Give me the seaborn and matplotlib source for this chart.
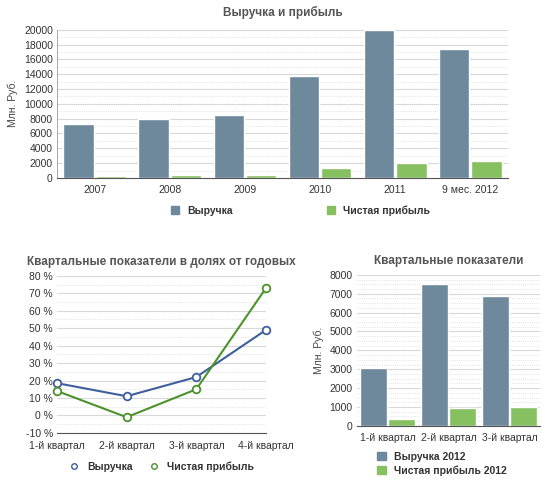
import seaborn as sns
import matplotlib.pyplot as plt
import pandas as pd
from matplotlib.ticker import MultipleLocator, FuncFormatter
from matplotlib.lines import Line2D
from matplotlib.patches import Patch

# --- data ---
years = ['2007', '2008', '2009', '2010', '2011', '9 мес. 2012']
revenue_year = [7300, 7900, 8500, 13800, 20000, 17400]
profit_year = [250, 350, 450, 1300, 2000, 2300]

quarters = ['1-й квартал', '2-й квартал', '3-й квартал', '4-й квартал']
revenue_share = [18.5, 11, 22, 49]
profit_share = [14, -1, 15, 73]

quarters_2012 = ['1-й квартал', '2-й квартал', '3-й квартал']
revenue_q = [3050, 7500, 6900]
profit_q = [380, 950, 1000]

BLUE_BAR = '#6e889c'
GREEN_BAR = '#86c060'
BLUE_LINE = '#3e5f9c'
GREEN_LINE = '#4c922c'
TXT = '#333333'
TITLE = '#555555'

sns.set_style("white")
plt.rcParams['font.family'] = ['Liberation Sans', 'DejaVu Sans']
plt.rcParams['font.size'] = 7.5
plt.rcParams['text.color'] = TXT
plt.rcParams['xtick.color'] = TXT
plt.rcParams['ytick.color'] = TXT

fig = plt.figure(figsize=(5.5, 4.97), dpi=100)
ax1 = fig.add_axes([0.1036, 0.642, 0.82, 0.298])
ax2 = fig.add_axes([0.1036, 0.129, 0.38, 0.316])
ax3 = fig.add_axes([0.649, 0.143, 0.333, 0.304])


def style_grid(ax, major, minor):
    ax.yaxis.set_major_locator(MultipleLocator(major))
    ax.yaxis.set_minor_locator(MultipleLocator(minor))
    ax.grid(axis='y', which='major', color='#d9d9d9', lw=0.8)
    ax.grid(axis='y', which='minor', color='#d9d9d9', lw=0.6, ls=':')
    ax.set_axisbelow(True)
    for s in ['top', 'right']:
        ax.spines[s].set_visible(False)
    ax.spines['bottom'].set_color('#555555')
    ax.spines['left'].set_color('#999999')
    ax.spines['left'].set_linewidth(0.6)
    ax.tick_params(axis='both', which='both', length=0, labelsize=7.5, pad=3)


# --- top: yearly bars ---
df1 = pd.DataFrame({
    'cat': years * 2,
    'val': revenue_year + profit_year,
    'series': ['Выручка'] * len(years) + ['Чистая прибыль'] * len(years),
})
sns.barplot(data=df1, x='cat', y='val', hue='series', ax=ax1,
            palette=[BLUE_BAR, GREEN_BAR], width=0.86, gap=0.06,
            saturation=1, legend=False)
ax1.set_ylim(0, 20000)
ax1.set_xlim(-0.5, 5.5)
style_grid(ax1, 2000, 1000)
ax1.tick_params(axis='x', pad=5)
ax1.set_xlabel('')
ax1.set_ylabel('Млн. Руб.', color='#444444', fontsize=7.5)
ax1.set_title('Выручка и прибыль', fontsize=8.5, fontweight='bold', color=TITLE, pad=10)
ax1.legend(handles=[Patch(color=BLUE_BAR, label='Выручка'),
                    Patch(color=GREEN_BAR, label='Чистая прибыль')],
           loc='upper center', bbox_to_anchor=(0.54, -0.12), ncol=2, frameon=False,
           handlelength=0.8, handleheight=0.8, columnspacing=9,
           prop={'weight': 'bold', 'size': 7.5})

# --- bottom-left: quarterly share lines ---
df2 = pd.DataFrame({
    'cat': quarters * 2,
    'val': revenue_share + profit_share,
    'series': ['Выручка'] * 4 + ['Чистая прибыль'] * 4,
})
sns.lineplot(data=df2, x='cat', y='val', hue='series', ax=ax2,
             palette=[BLUE_LINE, GREEN_LINE], marker='o', markersize=5.5,
             markerfacecolor='white', markeredgewidth=1.3, lw=1.5,
             legend=False, clip_on=False, sort=False)
for ln in ax2.lines:
    ln.set_markeredgecolor(ln.get_color())
ax2.set_xlim(0, 3)
ax2.set_ylim(-10, 80)
style_grid(ax2, 10, 5)
ax2.tick_params(axis='x', pad=6)
ax2.spines['left'].set_visible(False)
ax2.yaxis.set_major_formatter(FuncFormatter(lambda v, p: f'{int(v)} %'))
ax2.set_xlabel('')
ax2.set_ylabel('')
ax2.set_title('Квартальные показатели в долях от годовых', fontsize=8.5,
              fontweight='bold', color=TITLE, pad=8)
ax2.legend(handles=[Line2D([], [], color=BLUE_LINE, marker='o', ls='none',
                           markerfacecolor='white', markersize=4, label='Выручка'),
                    Line2D([], [], color=GREEN_LINE, marker='o', ls='none',
                           markerfacecolor='white', markersize=4, label='Чистая прибыль')],
           loc='upper center', bbox_to_anchor=(0.5, -0.12), ncol=2, frameon=False,
           handlelength=1, columnspacing=1.5, prop={'weight': 'bold', 'size': 7.5})

# --- bottom-right: quarterly bars ---
df3 = pd.DataFrame({
    'cat': quarters_2012 * 2,
    'val': revenue_q + profit_q,
    'series': ['Выручка 2012'] * 3 + ['Чистая прибыль 2012'] * 3,
})
sns.barplot(data=df3, x='cat', y='val', hue='series', ax=ax3,
            palette=[BLUE_BAR, GREEN_BAR], width=0.92, gap=0.06,
            saturation=1, legend=False)
ax3.set_ylim(0, 8000)
ax3.set_xlim(-0.5, 2.5)
style_grid(ax3, 1000, 250)
ax3.tick_params(axis='x', pad=5)
ax3.spines['left'].set_visible(False)
ax3.set_xlabel('')
ax3.set_ylabel('Млн. Руб.', color='#444444', fontsize=7.5)
ax3.set_title('Квартальные показатели', fontsize=8.5, fontweight='bold',
              color=TITLE, pad=8)
ax3.legend(handles=[Patch(color=BLUE_BAR, label='Выручка 2012'),
                    Patch(color=GREEN_BAR, label='Чистая прибыль 2012')],
           loc='upper left', bbox_to_anchor=(0.06, -0.11), ncol=1, frameon=False,
           handlelength=0.8, handleheight=0.8, labelspacing=0.3,
           prop={'weight': 'bold', 'size': 7.5})

fig.savefig('out.png', dpi=100, facecolor='white')
